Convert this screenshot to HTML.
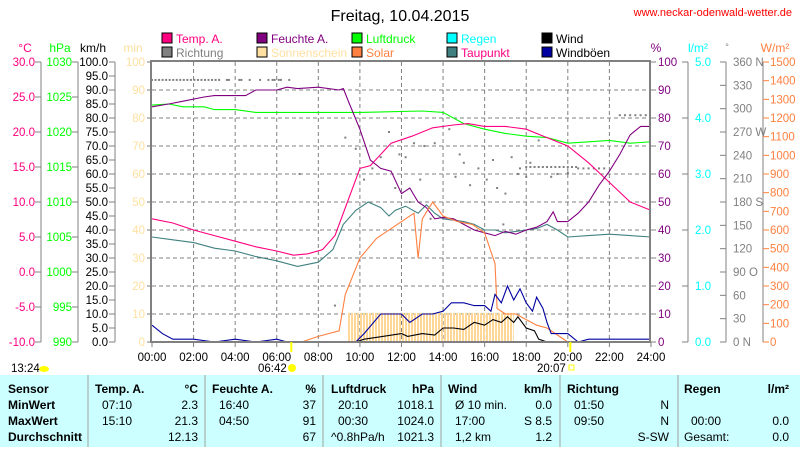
<!DOCTYPE html>
<html><head><meta charset="utf-8"><style>
body{margin:0;background:#fff;width:800px;height:447px;overflow:hidden;font-family:"Liberation Sans",sans-serif}
svg text{font-family:"Liberation Sans",sans-serif}
</style></head><body>
<svg id="s" width="800" height="447" xmlns="http://www.w3.org/2000/svg">
<defs>
<pattern id="sun" width="3" height="10" patternUnits="userSpaceOnUse"><rect x="0" y="0" width="2" height="10" fill="#ffd898"/></pattern>
</defs>
<text x="400" y="21" font-size="16" text-anchor="middle">Freitag, 10.04.2015</text>
<text x="792" y="16" font-size="11" fill="#ff0000" text-anchor="end">www.neckar-odenwald-wetter.de</text>
<g id="g"></g>
</svg>
<script>
var NS="http://www.w3.org/2000/svg",G=document.getElementById('g');
function el(t,a,txt){var e=document.createElementNS(NS,t);for(var k in a)e.setAttribute(k,a[k]);if(txt!==undefined)e.textContent=txt;G.appendChild(e);return e;}
function X(h){return 152+h*20.79;}function Y(v){return 342-v*2.8;}
function txt(x,y,s,c,anc,sz,w){return el('text',{x:x,y:y,fill:c||'#000','font-size':sz||12,'text-anchor':anc||'start','font-weight':w||'normal'},s);}
var leg=[[162,"Temp. A.","#ff0080","#ff0080"],[257,"Feuchte A.","#800080","#800080"],[352,"Luftdruck","#00ff00","#00ff00"],[447,"Regen","#00ffff","#00ffff"],[542,"Wind","#000","#000"]];
var leg2=[[162,"Richtung","#808080","#808080"],[257,"Sonnenschein","#ffe0a0","#ffe0a0"],[352,"Solar","#ff8040","#ff8040"],[447,"Taupunkt","#408080","#ff0080"],[542,"Windböen","#0000a0","#000"]];
leg.forEach(function(l){el('rect',{x:l[0],y:33,width:10,height:10,fill:l[2],stroke:'#000'});txt(l[0]+14,43,l[1],l[3]);});
leg2.forEach(function(l){el('rect',{x:l[0],y:47,width:10,height:10,fill:l[2],stroke:'#000'});txt(l[0]+14,57,l[1],l[3]);});
txt(25,52,"°C","#ff0080","middle");txt(60,52,"hPa","#00ff00","middle");txt(93,52,"km/h","#000","middle");txt(133,52,"min","#ffe0a0","middle");
txt(656,52,"%","#800080","middle");txt(698,52,"l/m²","#00ffff","middle");txt(727,50,"°","#808080","middle",9);txt(775,52,"W/m²","#ff8040","middle");
for(var h=2;h<24;h+=2)el('line',{x1:X(h),y1:62,x2:X(h),y2:342,stroke:'#808080','stroke-dasharray':'4,3'});
for(var v=10;v<100;v+=10)el('line',{x1:152,y1:Y(v),x2:650,y2:Y(v),stroke:'#808080','stroke-dasharray':'4,3'});
el('line',{x1:41,y1:62,x2:41,y2:342,stroke:'#808080'});
el('line',{x1:78,y1:62,x2:78,y2:342,stroke:'#808080'});
el('line',{x1:115,y1:62,x2:115,y2:342,stroke:'#808080'});
var FS=11.5;
for(var i=0;i<=8;i++){var y=342-i*35;el('line',{x1:35,y1:y,x2:41,y2:y,stroke:'#808080'});txt(35,y+4,(-10+i*5).toFixed(1),"#ff0080","end",FS);
el('line',{x1:72,y1:y,x2:78,y2:y,stroke:'#808080'});txt(72,y+4,990+i*5,"#00ff00","end",FS);}
for(var i=0;i<=20;i++){var y=342-i*14;el('line',{x1:109,y1:y,x2:115,y2:y,stroke:'#808080'});txt(108,y+4,(i*5).toFixed(1),"#000","end",FS);}
for(var i=0;i<=10;i++){var y=342-i*28;txt(145,y+4,i*10,"#ffe0a0","end",FS);el('line',{x1:147,y1:y,x2:152,y2:y,stroke:'#808080'});
el('line',{x1:651,y1:y,x2:656,y2:y,stroke:'#808080'});txt(658,y+4,i*10,"#800080","start",FS);}
el('line',{x1:688,y1:62,x2:688,y2:342,stroke:'#808080'});
for(var i=0;i<=5;i++){var y=342-i*56;el('line',{x1:682,y1:y,x2:688,y2:y,stroke:'#808080'});txt(695,y+4,i.toFixed(1),"#00ffff","start",FS);}
el('line',{x1:726,y1:62,x2:726,y2:342,stroke:'#808080'});
var dl={0:"N",3:"O",6:"S",9:"W",12:"N"};
for(var i=0;i<=12;i++){var y=342-i*280/12;el('line',{x1:720,y1:y,x2:726,y2:y,stroke:'#808080'});txt(733,y+4,(i*30)+(dl[i]?(i==3?"  ":" ")+dl[i]:""),"#808080","start",FS);}
el('line',{x1:763,y1:62,x2:763,y2:342,stroke:'#808080'});
for(var i=0;i<=15;i++){var y=342-i*280/15;el('line',{x1:763,y1:y,x2:769,y2:y,stroke:'#ff8040'});txt(770,y+4,i*100,"#ff8040","start",FS);}
for(var h=0;h<=24;h+=2){el('line',{x1:X(h),y1:342,x2:X(h),y2:347,stroke:'#808080'});txt(X(h),361,(h<10?"0":"")+h+":00","#000","middle",FS);}
el('rect',{x:X(9.4),y:Y(10.4),width:X(17.4)-X(9.4),height:Y(0)-Y(10.4),fill:'url(#sun)'});
function line(pts,col){var s=pts.map(function(p){return X(p[0]).toFixed(1)+","+Y(p[1]).toFixed(1)}).join(" ");el('polyline',{points:s,fill:'none',stroke:col,'stroke-width':1.1});}
var dots=[];for(var h=0;h<3.3;h+=0.17)dots.push([h,93.6]);[3.6,3.7,4.2,4.3,4.7,5.2,5.6,5.8,5.9,6.1,6.2,6.6].forEach(function(h){dots.push([h,93.6])});
[[9.3,73],[10.2,58],[10.6,62],[11,66],[11.4,75],[11.9,67],[12.2,66],[12.6,71],[12.9,58],[13.1,70],[13.6,71],[14.3,76],[14.6,59],[14.8,67],[15.3,56],[15.7,62],[16.1,58],[16.4,65],[16.6,55],[17,53],[17.3,66],[17.7,62],[18.2,64],[18.6,72],[7.1,60],[8.8,13],[9.8,69],[11.7,55],[12.4,50],[13.4,44],[15,64],[16.9,42],[19.2,59]].forEach(function(d){dots.push(d)});
for(var h=18;h<20.5;h+=0.2)dots.push([h,62.5]);for(var h=20.5;h<21.8;h+=0.25)dots.push([h,62]);for(var h=22.5;h<24;h+=0.25)dots.push([h,81]);
[[19.5,60],[20,60.5],[17.6,60],[18,59]].forEach(function(d){dots.push(d)});
dots.forEach(function(d){el('rect',{x:X(d[0])-1,y:Y(d[1])-1,width:2,height:2,fill:'#808080'})});
line([[0,84.6],[0.8,85],[1.5,84],[2.5,84],[3,83],[4,83],[5,82],[8,82],[10,82],[13,82.5],[14,82],[15,78],[16,76],[17,74.5],[18,73.5],[19,73],[20,71],[21,71.5],[22,72],[23,71],[24,71.5]],"#00ff00");
line([[0,37.5],[1,36.5],[2,35.5],[3,33.5],[4,32.5],[5,30.5],[6,29],[7,27],[8,28.5],[8.7,33],[9.2,42],[9.8,47],[10.4,50],[11,48],[11.4,45],[11.7,47],[12.2,48.5],[12.8,46],[13.2,49],[13.6,46],[14,44],[14.5,43.5],[15,43],[15.5,42],[16,40],[16.5,40],[17,39],[17.5,39.5],[18,40],[18.5,40.5],[19,42],[19.5,40],[20,37.5],[21,38],[22,38.5],[23,38],[24,37.5]],"#408080");
line([[0,44],[1,42.5],[2,40],[3,38],[4,36],[5,34],[6,32.5],[6.8,31],[7.5,31.5],[8.2,33],[8.8,38],[9.5,52],[10,62],[10.5,63],[11.5,71],[12.5,73.5],[13.5,76.5],[14.5,77.5],[15.2,78],[16,77],[17,77],[18,76],[19,73],[20,70],[21,64],[22,57],[23,50],[24,47]],"#ff0080");
line([[0,84],[0.8,85],[1.5,86],[2.5,87.5],[3,88],[4.5,88],[5,90],[6,90],[6.5,91],[7,90.5],[8,91],[9,90],[9.2,90.5],[9.5,85],[10,76],[10.5,65],[11,62],[11.5,61],[12,53],[12.4,55],[12.8,50],[13.2,48],[13.6,44],[14,44.5],[14.5,44],[15,42],[15.5,40],[16,39],[16.5,38],[17,39.5],[17.5,38.5],[18,40],[18.5,41],[19,43],[19.3,46.5],[19.5,43],[20,43],[20.5,46],[21,50],[21.5,56],[22,61],[22.5,67],[23,74],[23.5,77],[24,77]],"#800080");
line([[0,0],[7.2,0],[8,2],[9,4],[9.3,17],[10,30],[10.8,37],[11.6,41],[12.2,44],[12.6,46],[12.8,30],[13,44],[13.5,50],[14,45],[14.7,43],[15.4,42],[16,39],[16.5,28],[16.6,12],[17,10],[17.5,10],[18,8],[18.5,6],[19,5],[19.5,2.5],[20,0]],"#ff8040");
line([[0,6],[0.5,3],[1,1],[2,1],[3,0],[4,1],[5,0],[6,1],[6.5,0],[9.8,0],[10.2,3],[11,10],[12,10],[12.4,7],[13,10],[13.5,10],[14,11],[14.4,14],[15,14],[15.5,13],[16,13],[16.3,11],[16.5,17],[16.8,14],[17.1,20],[17.4,15],[17.7,19],[18,14],[18.3,11],[18.5,16],[18.8,12],[19,7],[19.2,3],[20,3],[20.5,0],[21,1],[22,1],[23,1],[24,1]],"#0000a0");
line([[0,0],[9.8,0],[10.2,1],[12,3],[12.3,2],[13,3],[13.6,2.5],[14,5],[14.5,5],[15,4.5],[15.5,7],[16,6],[16.4,8],[16.8,7],[17.1,9],[17.4,7],[17.6,9],[18,5],[18.4,4],[18.6,1],[19,0]],"#000");
el('rect',{x:151,y:61,width:499,height:281,fill:'none',stroke:'#808080','stroke-width':2});
el('line',{x1:X(6.7),y1:342,x2:X(6.7),y2:352,stroke:'#ffff00','stroke-width':2});
el('line',{x1:X(20.12),y1:342,x2:X(20.12),y2:352,stroke:'#ffff00','stroke-width':2});
txt(11,372,"13:24","#000","start",FS);el('ellipse',{cx:44,cy:369,rx:5,ry:3,fill:'#ffff00'});
txt(258,372,"06:42","#000","start",FS);el('circle',{cx:292,cy:368,r:4,fill:'#ffff00'});
txt(537,372,"20:07","#000","start",FS);el('rect',{x:569,y:365,width:5,height:5,fill:'none',stroke:'#ffff00'});
el('rect',{x:0,y:375,width:800,height:72,fill:'#ccffff'});
[88,205,323,441,560,678].forEach(function(x){el('line',{x1:x,y1:375,x2:x,y2:447,stroke:'#a0a0a0'})});
var rows=[389,405,421,437];
["Sensor","MinWert","MaxWert","Durchschnitt"].forEach(function(s,i){txt(8,rows[i]+4,s,'#000','start',12,'bold')});
var cols=[[95,198,["Temp. A.","°C"],[["07:10","2.3"],["15:10","21.3"],["","12.13"]]],
[212,316,["Feuchte A.","%"],[["16:40","37"],["04:50","91"],["","67"]]],
[331,434,["Luftdruck","hPa"],[["20:10","1018.1"],["00:30","1024.0"],["^0.8hPa/h","1021.3"]]],
[448,552,["Wind","km/h"],[["Ø 10 min.","0.0"],["17:00","S 8.5"],["1,2 km","1.2"]]],
[567,669,["Richtung",""],[["01:50","N"],["09:50","N"],["","S-SW"]]],
[684,789,["Regen","l/m²"],[["",""],["00:00","0.0"],["Gesamt:","0.0"]]]];
cols.forEach(function(c){txt(c[0],rows[0]+4,c[2][0],'#000','start',12,'bold');txt(c[1],rows[0]+4,c[2][1],'#000','end',12,'bold');
c[3].forEach(function(r,i){txt(c[0]+(r[0]=="Gesamt:"||r[0].indexOf("^")==0?0:7),rows[i+1]+4,r[0]);txt(c[1],rows[i+1]+4,r[1],'#000','end');});});
</script>
</body></html>
